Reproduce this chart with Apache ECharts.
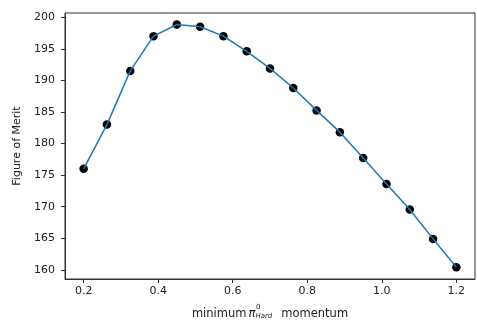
<!DOCTYPE html>
<html>
<head>
<meta charset="utf-8">
<script src="https://cdn.jsdelivr.net/npm/echarts@6/dist/echarts.min.js"></script>
<style>html,body{margin:0;padding:0;background:#fff}#c{width:477px;height:327px}</style>
</head>
<body>
<div id="c"></div>
<script>
const xValues = [0.2, 0.2625, 0.325, 0.3875, 0.45, 0.5125, 0.575, 0.6375, 0.7, 0.7625, 0.825, 0.8875, 0.95, 1.0125, 1.075, 1.1375, 1.2];
const fomValues = [176.0, 183.0, 191.5, 197.0, 198.85, 198.5, 197.0, 194.6, 191.9, 188.8, 185.25, 181.8, 177.7, 173.6, 169.55, 164.9, 160.4];
const xTicks = [0.2, 0.4, 0.6, 0.8, 1.0, 1.2];
const yTicks = [160, 165, 170, 175, 180, 185, 190, 195, 200];

const chart = echarts.init(document.getElementById('c'), null, {renderer: 'canvas'});
const font = 'DejaVu Sans';
const data = xValues.map((x, i) => [x, fomValues[i]]);
chart.setOption({
  animation: false,
  textStyle: {fontFamily: font},
  grid: {left: 65, top: 13, right: 2, bottom: 48, show: true, borderColor: '#333', borderWidth: 1},
  xAxis: {
    type: 'value', min: 0.15, max: 1.25,
    splitLine: {show: false},
    axisLine: {show: true, onZero: false, lineStyle: {color: '#333', width: 1}},
    axisTick: {show: true, length: 4, lineStyle: {color: '#333'}, customValues: xTicks},
    axisLabel: {color: '#222', fontSize: 11, fontFamily: font, margin: 7, customValues: xTicks,
      formatter: v => v.toFixed(1)},
    name: '{t|minimum}{pi|π}{sub|Hard}{m|momentum}',
    nameLocation: 'middle', nameGap: 29,
    nameTextStyle: {color: '#222', fontSize: 11.5, fontFamily: font,
      rich: {
        t: {fontSize: 11.5, fontFamily: font, color: '#222'},
        pi: {fontSize: 11.5, fontStyle: 'italic', fontFamily: font, color: '#222', padding: [0, 0, 0, 2]},
        sub: {fontSize: 7, fontStyle: 'italic', fontFamily: font, color: '#222', padding: [5, 0, 0, 0]},
        m: {fontSize: 11.5, fontFamily: font, color: '#222', padding: [0, 0, 0, 9]}
      }}
  },
  yAxis: {
    type: 'value', min: 158.55, max: 200.67,
    splitLine: {show: false},
    axisLine: {show: true, lineStyle: {color: '#333', width: 1}},
    axisTick: {show: true, length: 4, lineStyle: {color: '#333'}, customValues: yTicks},
    axisLabel: {color: '#222', fontSize: 11, fontFamily: font, margin: 10, customValues: yTicks},
    name: 'Figure of Merit', nameLocation: 'middle', nameGap: 37,
    nameTextStyle: {color: '#222', fontSize: 11, fontFamily: font}
  },
  graphic: [{
    type: 'text', left: 256, top: 304,
    style: {text: '0', fontSize: 7, fontFamily: font, fill: '#222'}
  }],
  series: [{
    type: 'scatter', data: data,
    symbol: 'circle', symbolSize: 8.5,
    itemStyle: {color: '#000', opacity: 1},
    z: 2
  }, {
    type: 'line', data: data,
    showSymbol: false,
    lineStyle: {color: '#1f77b4', width: 1.5},
    z: 3
  }]
});
</script>
</body>
</html>
